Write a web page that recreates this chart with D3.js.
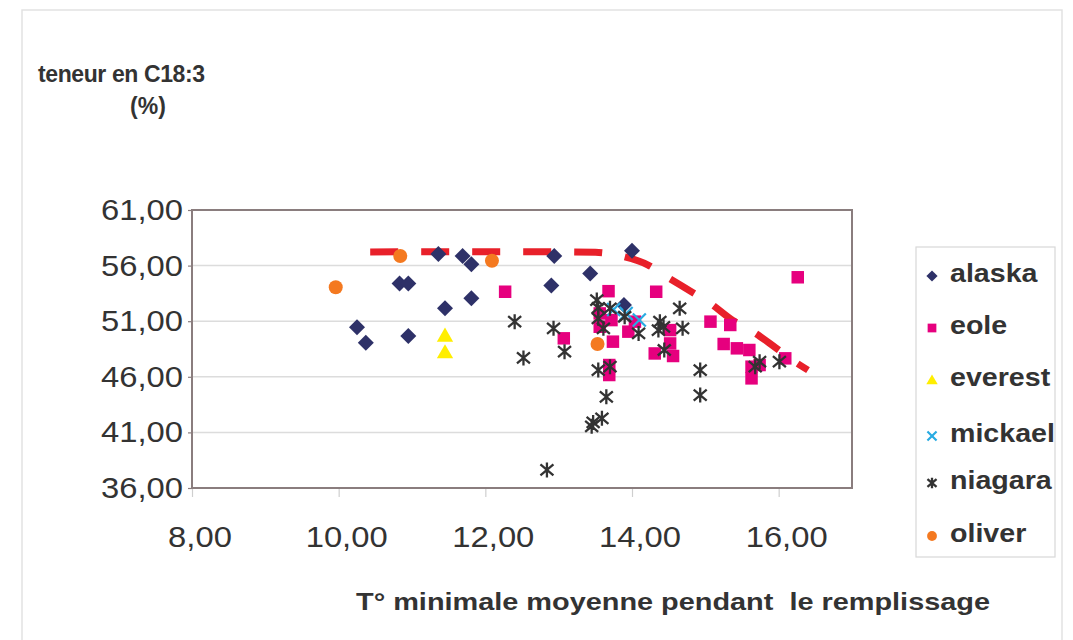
<!DOCTYPE html>
<html>
<head>
<meta charset="utf-8">
<script src="https://cdn.jsdelivr.net/npm/d3@7"></script>
<style>
  body { margin: 0; background: #fff; }
  svg { display: block; }
  text { font-family: "Liberation Sans", Arial, sans-serif; fill: #333; }
</style>
</head>
<body>
<div id="chart"></div>
<script>
// values (x = T° min, y = C18:3 %)
var alaskaX = [10.25, 10.37, 10.83, 10.95, 10.95, 11.36, 11.45, 11.69, 11.81, 11.81, 12.90, 12.94, 13.43, 13.89, 14.00];
var alaskaY = [50.45, 49.07, 54.40, 54.40, 49.67, 57.04, 52.16, 56.86, 56.12, 53.06, 54.20, 56.86, 55.30, 52.46, 57.34];

var eoleX = [12.27, 13.07, 13.56, 13.56, 13.68, 13.72, 13.74, 13.69, 13.69, 13.95, 14.04, 14.33, 14.31, 14.52, 14.52, 14.56,
             15.07, 15.34, 15.25, 15.43, 15.60, 15.63, 15.63, 15.74, 16.09, 16.26];
var eoleY = [53.65, 49.46, 51.70, 50.50, 53.70, 51.10, 49.16, 47.06, 46.16, 50.06, 50.96, 53.65, 48.10, 50.20, 49.00, 47.87,
             50.96, 50.66, 48.95, 48.56, 48.41, 46.91, 45.86, 47.06, 47.66, 54.95];

var everestX = [11.45, 11.45];
var everestY = [49.67, 48.17];

var mickaelX = [13.75, 13.92, 14.10];
var mickaelY = [52.05, 51.70, 51.10];

var niagaraX = [12.40, 12.52, 12.84, 12.93, 13.08, 13.45, 13.47, 13.52, 13.54, 13.54, 13.54, 13.59, 13.61, 13.65, 13.70, 13.70,
                13.90, 14.09, 14.36, 14.38, 14.43, 14.44, 14.65, 14.69, 14.93, 14.93, 15.68, 15.74, 16.01];
var niagaraY = [50.96, 47.70, 37.62, 50.36, 48.26, 41.55, 41.90, 52.90, 51.26, 46.61, 52.20, 42.27, 50.36, 44.20, 52.16, 46.91,
                51.40, 49.90, 50.20, 50.96, 50.50, 48.41, 52.16, 50.36, 46.61, 44.36, 46.91, 47.36, 47.36];

var oliverX = [9.96, 10.84, 12.09, 13.53];
var oliverY = [54.05, 56.86, 56.44, 48.95];

// dashed envelope
var trendX = [10.43, 11.50, 12.50, 13.50, 13.86, 14.22, 14.47, 14.81, 15.06, 15.37, 15.65, 15.97, 16.22, 16.40];
var trendY = [57.22, 57.25, 57.25, 57.20, 56.85, 56.05, 55.00, 53.65, 52.64, 51.10, 50.06, 48.56, 47.36, 46.60];

var xTicks = [8, 10, 12, 14, 16];
var yTicks = [36, 41, 46, 51, 56, 61];

var seriesNames = ["alaska", "eole", "everest", "mickael", "niagara", "oliver"];
var seriesColors = ["#2e3168", "#e6007e", "#ffee00", "#29abe2", "#333333", "#f47920"];

var W = 1073, H = 640;
var plot = {left: 192, top: 210, right: 852, bottom: 488};

var fmt = function(v){ return d3.format(".2f")(v).replace(".", ","); };

var svg = d3.select("#chart").append("svg")
    .attr("width", W)
    .attr("height", H);

// outer frame
svg.append("rect")
    .attr("x", 22).attr("y", 10)
    .attr("width", 1040).attr("height", 660)
    .attr("fill", "#fff")
    .attr("stroke", "#e2e2e2")
    .attr("stroke-width", 1.5);

var x = d3.scaleLinear().domain([8, 17]).range([plot.left, plot.right]);
var y = d3.scaleLinear().domain([36, 61]).range([plot.bottom, plot.top]);

// gridlines
svg.append("g")
    .selectAll("line")
    .data(yTicks.slice(1, -1))
    .join("line")
    .attr("x1", plot.left).attr("x2", plot.right)
    .attr("y1", function(d){ return y(d); })
    .attr("y2", function(d){ return y(d); })
    .attr("stroke", "#dcdcdc")
    .attr("stroke-width", 1.5);

// axes (labels drawn by hand below, so the ticks only)
var xAxis = d3.axisBottom(x).tickValues(xTicks).tickSize(9).tickFormat("");
var yAxis = d3.axisLeft(y).tickValues(yTicks).tickSize(4).tickFormat("");

var gX = svg.append("g")
    .attr("transform", "translate(0," + plot.bottom + ")")
    .call(xAxis);
gX.select(".domain").remove();
gX.selectAll(".tick line").attr("stroke", "#cfcfcf").attr("stroke-width", 1.2);

var gY = svg.append("g")
    .attr("transform", "translate(" + plot.left + ",0)")
    .call(yAxis);
gY.select(".domain").remove();
gY.selectAll(".tick line").attr("stroke", "#8a7d7e").attr("stroke-width", 1.2);

// tick labels, slightly stretched like the original
svg.append("g")
    .selectAll("text")
    .data(xTicks)
    .join("text")
    .attr("transform", function(d){ return "translate(" + (x(d) + 8) + ",547) scale(1.13,1)"; })
    .attr("text-anchor", "middle")
    .attr("font-size", 29)
    .text(fmt);

svg.append("g")
    .selectAll("text")
    .data(yTicks)
    .join("text")
    .attr("transform", function(d){ return "translate(183," + (y(d) + 10) + ") scale(1.13,1)"; })
    .attr("text-anchor", "end")
    .attr("font-size", 29)
    .text(fmt);

// plot border
svg.append("rect")
    .attr("x", plot.left).attr("y", plot.top)
    .attr("width", plot.right - plot.left)
    .attr("height", plot.bottom - plot.top)
    .attr("fill", "none")
    .attr("stroke", "#8a7d7e")
    .attr("stroke-width", 2);

// red dashed line
var trend = trendX.map(function(v, i){ return [v, trendY[i]]; });
svg.append("path")
    .datum(trend)
    .attr("fill", "none")
    .attr("stroke", "#e8202a")
    .attr("stroke-width", 7)
    .attr("stroke-dasharray", "28,23")
    .attr("d", d3.line()
        .x(function(d){ return x(d[0]); })
        .y(function(d){ return y(d[1]); })
        .curve(d3.curveMonotoneX));

// marker drawers
var markers = {
    alaska: function(g, s){
        g.append("path").attr("d", d3.symbol(d3.symbolSquare, 128 * s * s)())
            .attr("transform", "rotate(45)").attr("fill", seriesColors[0]);
    },
    eole: function(g, s){
        g.append("path").attr("d", d3.symbol(d3.symbolSquare, 156 * s * s)())
            .attr("fill", seriesColors[1]);
    },
    everest: function(g, s){
        g.append("path").attr("d", d3.symbol(d3.symbolTriangle, 115 * s * s)())
            .attr("transform", "translate(0,1)").attr("fill", seriesColors[2]);
    },
    mickael: function(g, s){
        var r = 6.5 * s;
        g.append("path").attr("d", "M" + (-r) + "," + (-r) + "L" + r + "," + r + "M" + (-r) + "," + r + "L" + r + "," + (-r))
            .attr("stroke", seriesColors[3]).attr("stroke-width", 2.2).attr("fill", "none");
    },
    niagara: function(g, s){
        var r = 7.5 * s, d = 6.5 * s, e = 5.5 * s;
        g.append("path").attr("d", "M0," + (-r) + "L0," + r +
                "M" + (-d) + "," + (-e) + "L" + d + "," + e +
                "M" + (-d) + "," + e + "L" + d + "," + (-e))
            .attr("stroke", seriesColors[4]).attr("stroke-width", 2.3).attr("fill", "none");
    },
    oliver: function(g, s){
        g.append("circle").attr("r", 7 * s).attr("fill", seriesColors[5]);
    }
};

var series = [
    {name: "alaska", xs: alaskaX, ys: alaskaY},
    {name: "eole", xs: eoleX, ys: eoleY},
    {name: "everest", xs: everestX, ys: everestY},
    {name: "mickael", xs: mickaelX, ys: mickaelY},
    {name: "niagara", xs: niagaraX, ys: niagaraY},
    {name: "oliver", xs: oliverX, ys: oliverY}
];

series.forEach(function(sr){
    var pts = sr.xs.map(function(v, i){ return [v, sr.ys[i]]; });
    svg.append("g")
        .attr("class", "series-" + sr.name)
        .selectAll("g")
        .data(pts)
        .join("g")
        .attr("transform", function(d){ return "translate(" + x(d[0]) + "," + y(d[1]) + ")"; })
        .each(function(){ markers[sr.name](d3.select(this), 1); });
});

// legend
var legend = svg.append("g");
legend.append("rect")
    .attr("x", 916).attr("y", 247)
    .attr("width", 139).attr("height", 310)
    .attr("fill", "#fff")
    .attr("stroke", "#d8d8d8")
    .attr("stroke-width", 1.2);

var legendY = [273, 325, 377, 433, 480, 533];
seriesNames.forEach(function(name, i){
    var row = legend.append("g").attr("transform", "translate(0," + legendY[i] + ")");
    var m = row.append("g").attr("transform", "translate(932,3)");
    markers[name](m, 0.7);
    row.append("text")
        .attr("transform", "translate(950,9) scale(1.1,1)")
        .attr("font-size", 26)
        .attr("font-weight", "bold")
        .text(name);
});

// titles
svg.append("text")
    .attr("x", 38).attr("y", 82)
    .attr("font-size", 23)
    .attr("font-weight", "bold")
    .attr("textLength", 167)
    .text("teneur en C18:3");
svg.append("text")
    .attr("x", 148).attr("y", 114)
    .attr("text-anchor", "middle")
    .attr("font-size", 23)
    .attr("font-weight", "bold")
    .text("(%)");

svg.append("text")
    .attr("x", 356).attr("y", 610)
    .attr("font-size", 24)
    .attr("font-weight", "bold")
    .attr("textLength", 634)
    .attr("lengthAdjust", "spacingAndGlyphs")
    .style("white-space", "pre")
    .text("T° minimale moyenne pendant  le remplissage");
</script>
</body>
</html>
